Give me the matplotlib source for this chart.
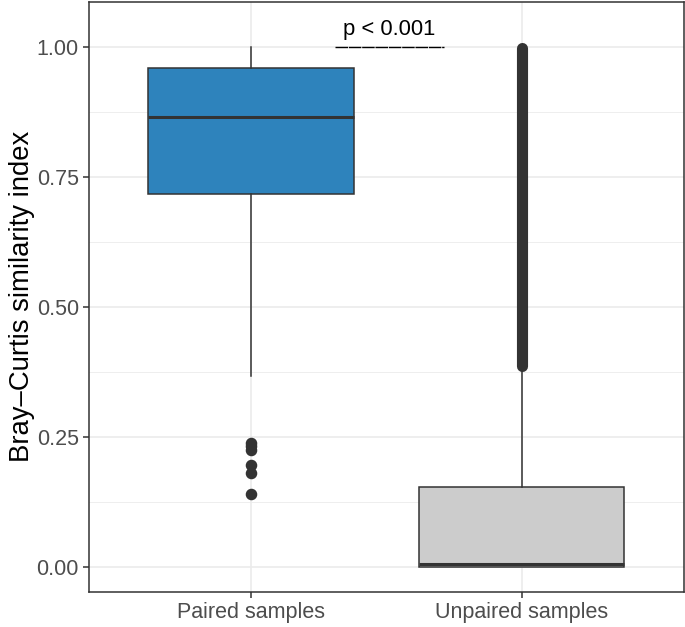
# Bray-Curtis similarity, paired vs unpaired samples

import numpy as np
import matplotlib.pyplot as plt
import matplotlib.ticker as plticker

# Box statistics
groups = ['Paired samples', 'Unpaired samples']
box_q1 = [0.717, 0.0]
box_med = [0.865, 0.006]
box_q3 = [0.960, 0.154]
whisk_lo = [0.367, 0.0]
whisk_hi = [1.0, 0.378]
paired_outliers = [0.238, 0.232, 0.224, 0.196, 0.181, 0.140]
# unpaired outliers overlap into a solid band between these values
unpaired_outlier_range = [0.386, 0.998]

# significance label and its bar
p_label = 'p < 0.001'
p_bar_x = [1.31, 1.715]
p_bar_y = 1.0

box_colors = ['#2E83BC', '#CCCCCC']
line_color = '#333333'
grid_color = '#EBEBEB'

plt.rcParams['font.family'] = ['Liberation Sans', 'DejaVu Sans']

fig = plt.figure(figsize=(6.85, 6.27), dpi=100)
ax = fig.add_axes([88.5 / 685, 1 - 592 / 627, (684 - 88.5) / 685, (592 - 1.5) / 627])

stats = []
for i in range(len(groups)):
	stats.append(dict(med=box_med[i], q1=box_q1[i], q3=box_q3[i],
	                  whislo=whisk_lo[i], whishi=whisk_hi[i],
	                  fliers=paired_outliers if i == 0 else [], label=groups[i]))

bp = ax.bxp(stats, positions=[1, 2], widths=0.76, patch_artist=True, showcaps=False,
            boxprops=dict(edgecolor=line_color, linewidth=1.1),
            medianprops=dict(color=line_color, linewidth=2.2),
            whiskerprops=dict(color=line_color, linewidth=1.1),
            flierprops=dict(marker='o', markerfacecolor=line_color, markeredgecolor=line_color,
                            markersize=7.3, linestyle='none'))
for patch, c in zip(bp['boxes'], box_colors):
	patch.set_facecolor(c)
	patch.set_zorder(2)

# dense outlier band for unpaired samples
ax.plot([2, 2], unpaired_outlier_range, color=line_color, linewidth=8, solid_capstyle='round', zorder=3)

# significance annotation
ax.text(np.mean(p_bar_x), 1.034, p_label, ha='center', va='center', fontsize=15.8, color='black')
ax.plot(p_bar_x, [p_bar_y, p_bar_y], color='black', linewidth=1.0, dashes=(9, 0.6), zorder=3)

ax.set_xlim(0.4, 2.6)
ax.set_ylim(-0.048, 1.087)
ax.set_xticks([1, 2])
ax.set_xticklabels(groups)
ax.yaxis.set_major_locator(plticker.MultipleLocator(0.25))
ax.yaxis.set_minor_locator(plticker.MultipleLocator(0.125))
ax.yaxis.set_major_formatter(plticker.FormatStrFormatter('%.2f'))

ax.grid(True, which='major', color=grid_color, linewidth=1.2, zorder=0)
ax.grid(True, which='minor', axis='y', color=grid_color, linewidth=0.6, zorder=0)
ax.set_axisbelow(True)
ax.tick_params(which='major', length=4, width=1.1, color=line_color, labelsize=15.5, labelcolor='#4D4D4D', pad=3)
ax.tick_params(which='minor', length=0)
for s in ax.spines.values():
	s.set_color(line_color)
	s.set_linewidth(1.1)

ax.set_ylabel('Bray\u2013Curtis similarity index', fontsize=19.8, labelpad=1)

plt.savefig('out.png', dpi=100)
plt.close()
